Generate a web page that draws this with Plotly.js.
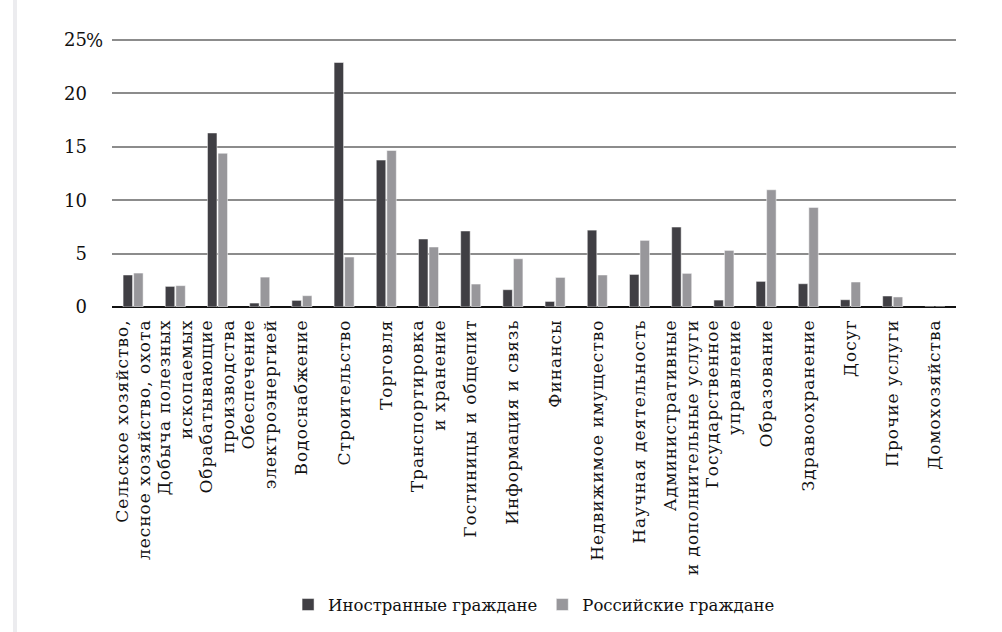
<!DOCTYPE html>
<html>
<head>
<meta charset="utf-8">
<script src="https://cdn.plot.ly/plotly-3.0.1.min.js"></script>
<style>
html,body{margin:0;padding:0;background:#fff;}
#chart{width:1002px;height:632px;}
#chart .xtick text{letter-spacing:1px;}
</style>
</head>
<body>
<div id="chart"></div>
<script>
const categories = [
  "Сельское хозяйство,<br>лесное хозяйство, охота",
  "Добыча полезных<br>ископаемых",
  "Обрабатывающие<br>производства",
  "Обеспечение<br>электроэнергией",
  "Водоснабжение",
  "Строительство",
  "Торговля",
  "Транспортировка<br>и хранение",
  "Гостиницы и общепит",
  "Информация и связь",
  "Финансы",
  "Недвижимое имущество",
  "Научная деятельность",
  "Административные<br>и дополнительные услуги",
  "Государственное<br>управление",
  "Образование",
  "Здравоохранение",
  "Досуг",
  "Прочие услуги",
  "Домохозяйства"
];
const foreigners = [3.0, 1.93, 16.3, 0.37, 0.62, 22.9, 13.76, 6.37, 7.12, 1.62, 0.52, 7.2, 3.05, 7.49, 0.65, 2.4, 2.18, 0.68, 1.03, 0];
const russians   = [3.18, 2.0, 14.4, 2.8, 1.06, 4.68, 14.66, 5.62, 2.15, 4.52, 2.77, 3.0, 6.24, 3.15, 5.3, 10.98, 9.33, 2.34, 0.94, 0];
const seriesNames = ["Иностранные граждане", "Российские граждане"];
const yTickVals = [0, 5, 10, 15, 20, 25];
const yTickText = ["0", "5", "10", "15", "20", "25"];
const yUnit = "%";

const font = "DejaVu Serif";
const data = [
  {type: "bar", x: categories, y: foreigners, name: seriesNames[0],
   marker: {color: "#403f44", line: {color: "#ffffff", width: 0.5}}},
  {type: "bar", x: categories, y: russians, name: seriesNames[1],
   marker: {color: "#98979b", line: {color: "#ffffff", width: 0.5}}}
];
const layout = {
  width: 1002, height: 632,
  margin: {l: 112, r: 46, t: 39, b: 325},
  paper_bgcolor: "#ffffff", plot_bgcolor: "#ffffff",
  font: {family: font, color: "#111", size: 17},
  barmode: "group", bargap: 0.5, bargroupgap: 0.1,
  showlegend: true,
  legend: {orientation: "h", xref: "container", yref: "container", x: 0.533, y: 0.043,
           xanchor: "center", yanchor: "middle", font: {family: font, size: 16.5, color: "#111"},
           itemwidth: 30, tracegroupgap: 0},
  xaxis: {type: "category", tickangle: -90, tickfont: {family: font, size: 17, color: "#111"},
          showgrid: false, showline: false, ticks: "", ticklabelstandoff: 8, automargin: false},
  yaxis: {range: [0, 25.1], tickvals: yTickVals, ticktext: yTickText,
          tickfont: {family: font, size: 18, color: "#111"},
          showgrid: true, gridcolor: "#8c8c8c", gridwidth: 2,
          zeroline: true, zerolinecolor: "#111", zerolinewidth: 2.5,
          showline: false, ticks: "", ticklabelstandoff: 24, automargin: false},
  annotations: [{text: yUnit, xref: "paper", yref: "y", x: 0, y: yTickVals[yTickVals.length - 1],
                 xanchor: "left", yanchor: "middle", xshift: -28, showarrow: false,
                 font: {family: font, size: 18, color: "#111"}}],
  shapes: [{type: "line", xref: "paper", yref: "paper", x0: -0.1149, x1: -0.1149, y0: -1.22, y1: 1.15,
            line: {color: "#ececef", width: 4}}]
};
Plotly.newPlot("chart", data, layout, {displayModeBar: false, staticPlot: true});
</script>
</body>
</html>
